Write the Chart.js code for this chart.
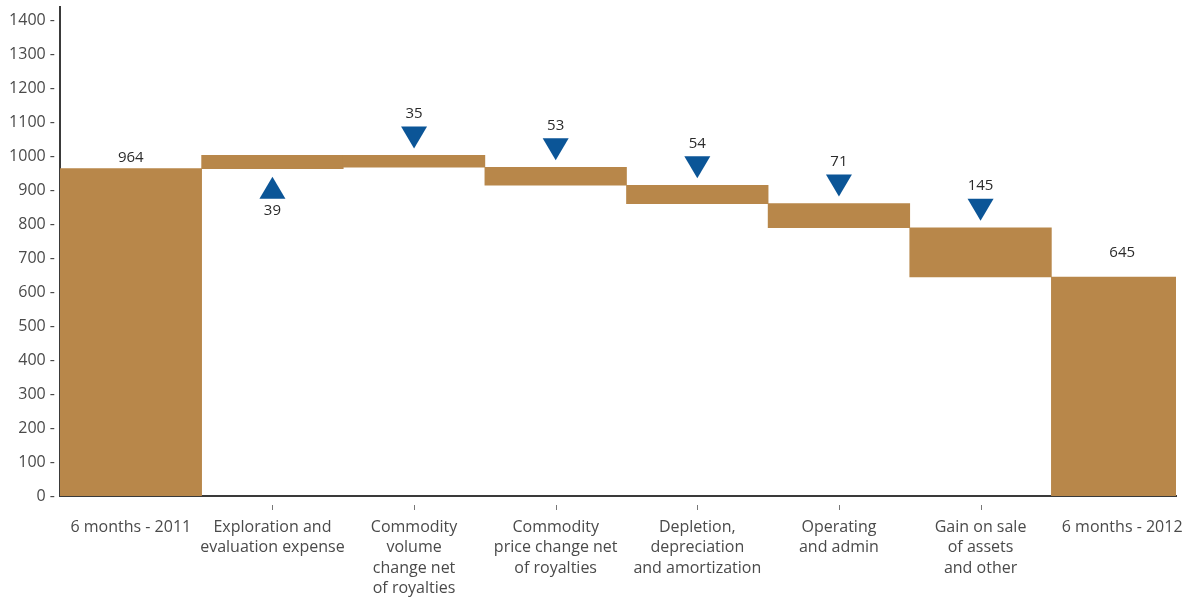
<!DOCTYPE html>
<html>
<head>
<meta charset="utf-8">
<title>Waterfall</title>
<script src="https://cdn.jsdelivr.net/npm/chart.js@4.4.1/dist/chart.umd.min.js"></script>
<style>
  html, body { margin: 0; padding: 0; background: #fff; }
  #chart { display: block; }
</style>
</head>
<body>
<canvas id="chart" width="1187" height="602"></canvas>
<script>
/*
  Half-year waterfall: opening total, changes, closing total.
*/
const categories = [
  ["6 months - 2011"],
  ["Exploration and", "evaluation expense"],
  ["Commodity", "volume", "change net", "of royalties"],
  ["Commodity", "price change net", "of royalties"],
  ["Depletion,", "depreciation", "and amortization"],
  ["Operating", "and admin"],
  ["Gain on sale", "of assets", "and other"],
  ["6 months - 2012"],
];
const openingTotal = 964;
const changes = [39, -35, -53, -54, -71, -145];
const closingTotal = 645;
const yTickValues = [0, 100, 200, 300, 400, 500, 600, 700, 800, 900, 1000, 1100, 1200, 1300, 1400];

const BAR_COLOR = "#b8874a";
const ARROW_COLOR = "#0b5597";
const FONT = "'Open Sans', sans-serif";

// floating bars: [low, high]
function buildBars() {
  const bars = [{ x: 0, y: [0, openingTotal] }];
  let level = openingTotal;
  changes.forEach((delta, i) => {
    const next = level + delta;
    bars.push({ x: i + 1, y: [Math.min(level, next), Math.max(level, next)] });
    level = next;
  });
  bars.push({ x: categories.length - 1, y: [0, closingTotal] });
  return bars;
}

const waterfallMarks = {
  id: "waterfallMarks",
  afterDatasetsDraw(chart) {
    const { ctx } = chart;
    const meta = chart.getDatasetMeta(0);
    ctx.save();
    ctx.font = `15px ${FONT}`;
    ctx.fillStyle = "#2b2b2b";
    ctx.textAlign = "center";
    ctx.textBaseline = "middle";

    // totals
    const ends = [
      { el: meta.data[0], value: openingTotal, gap: 11 },
      { el: meta.data[meta.data.length - 1], value: closingTotal, gap: 24 },
    ];
    ends.forEach(({ el, value, gap }) => {
      const top = Math.min(el.y, el.base);
      ctx.fillText(String(value), el.x, top - gap);
    });

    // change arrows
    changes.forEach((delta, i) => {
      const el = meta.data[i + 1];
      const top = Math.min(el.y, el.base);
      const bottom = Math.max(el.y, el.base);
      const half = 13;
      const h = 22;
      ctx.fillStyle = ARROW_COLOR;
      ctx.beginPath();
      if (delta > 0) {
        const y0 = bottom + 8;
        ctx.moveTo(el.x, y0);
        ctx.lineTo(el.x + half, y0 + h);
        ctx.lineTo(el.x - half, y0 + h);
        ctx.closePath();
        ctx.fill();
        ctx.fillStyle = "#2b2b2b";
        ctx.fillText(String(Math.abs(delta)), el.x, y0 + h + 12);
      } else {
        const tip = top - 7;
        ctx.moveTo(el.x, tip);
        ctx.lineTo(el.x + half, tip - h);
        ctx.lineTo(el.x - half, tip - h);
        ctx.closePath();
        ctx.fill();
        ctx.fillStyle = "#2b2b2b";
        ctx.fillText(String(Math.abs(delta)), el.x, tip - h - 13);
      }
    });
    ctx.restore();
  },
  afterDraw(chart) {
    // small detached tick marks under the change categories
    const { ctx } = chart;
    const xScale = chart.scales.x;
    const axisY = chart.chartArea.bottom;
    ctx.save();
    ctx.strokeStyle = "#777";
    ctx.lineWidth = 1;
    for (let i = 1; i < categories.length - 1; i++) {
      const px = Math.round(xScale.getPixelForValue(i)) + 0.5;
      ctx.beginPath();
      ctx.moveTo(px, axisY + 9);
      ctx.lineTo(px, axisY + 14);
      ctx.stroke();
    }
    ctx.restore();
  },
};

new Chart(document.getElementById("chart"), {
  type: "bar",
  data: {
    datasets: [
      {
        data: buildBars(),
        backgroundColor: BAR_COLOR,
        borderWidth: 0,
        barPercentage: 1,
        categoryPercentage: 1,
        clip: 0,
      },
    ],
  },
  options: {
    responsive: false,
    animation: false,
    layout: { padding: { top: 7, right: 11, left: 0, bottom: 0 } },
    plugins: {
      legend: { display: false },
      tooltip: { enabled: false },
    },
    scales: {
      x: {
        type: "linear",
        offset: false,
        min: -0.5,
        max: 7.38,
        grid: { display: false, drawTicks: false, offset: false },
        border: { display: true, color: "#3a3a3a", width: 2 },
        afterBuildTicks: (scale) => {
          scale.ticks = categories.map((_, i) => ({ value: i }));
        },
        afterFit: (scale) => {
          scale.height = 106;
          scale.paddingLeft = 0;
          scale.paddingRight = 0;
        },
        ticks: {
          autoSkip: false,
          maxRotation: 0,
          padding: 21,
          color: "#4a4a4a",
          font: { family: FONT, size: 16, lineHeight: 1.28 },
          callback: (value) => categories[value],
        },
      },
      y: {
        min: 0,
        max: 1440,
        grid: { display: false, drawTicks: false },
        border: { display: true, color: "#3a3a3a", width: 2 },
        afterBuildTicks: (scale) => {
          scale.ticks = yTickValues.map((v) => ({ value: v }));
        },
        afterFit: (scale) => {
          scale.width = 60;
          scale.paddingTop = 0;
          scale.paddingBottom = 0;
        },
        ticks: {
          padding: 5,
          color: "#4a4a4a",
          font: { family: FONT, size: 16 },
          callback: (value) => `${value} -`,
        },
      },
    },
  },
  plugins: [waterfallMarks],
});
</script>
</body>
</html>
